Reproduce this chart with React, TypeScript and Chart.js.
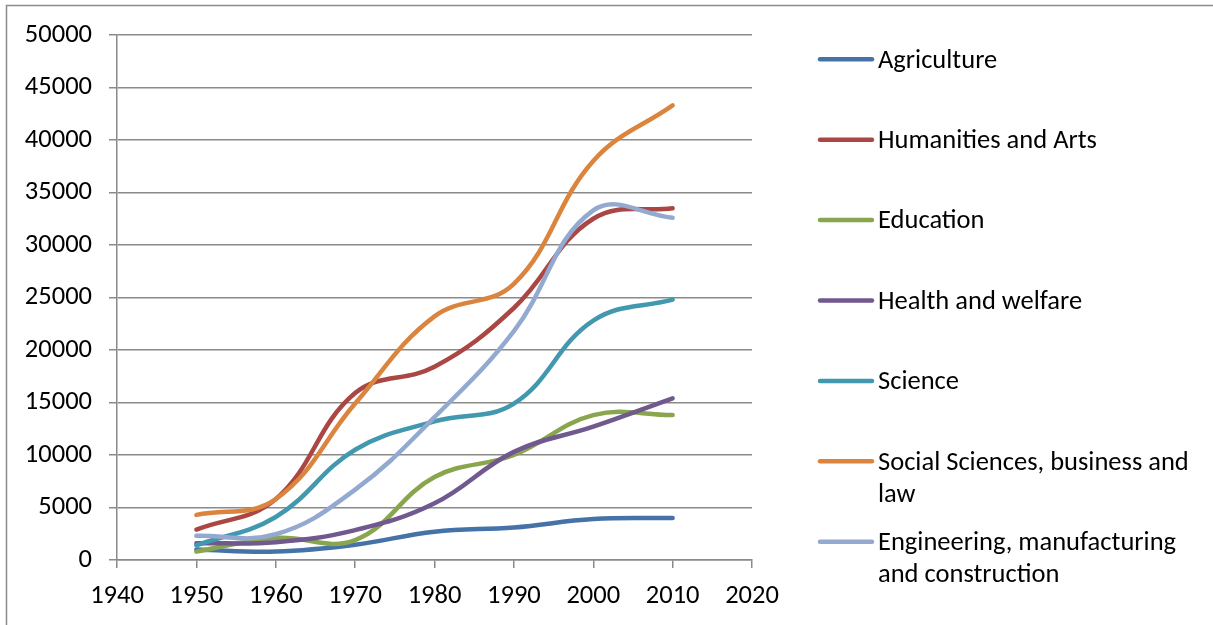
import React, { useEffect, useRef } from "react";
import { Chart, registerables } from "chart.js";

Chart.register(...registerables);

const years = [1950, 1960, 1970, 1980, 1990, 2000, 2010];
const agriculture = [1000, 800, 1450, 2700, 3100, 3900, 4000];
const humanities = [2900, 5800, 15900, 18400, 24000, 32500, 33500];
const education = [800, 2100, 1900, 7900, 10000, 13800, 13800];
const health = [1600, 1700, 2850, 5400, 10300, 12700, 15400];
const science = [1400, 4100, 10500, 13200, 14900, 22800, 24800];
const social = [4300, 5800, 14900, 23200, 26300, 38000, 43300];
const engineering = [2300, 2450, 6700, 13600, 21800, 33300, 32600];

const legendLines = [
  ["Agriculture"],
  ["Humanities and Arts"],
  ["Education"],
  ["Health and welfare"],
  ["Science"],
  ["Social Sciences, business and", "law"],
  ["Engineering, manufacturing", "and construction"],
];
const seriesValues = [agriculture, humanities, education, health, science, social, engineering];
const colors = ["#4572a7", "#aa4643", "#89a54e", "#71588f", "#4198af", "#db843d", "#93a9cf"];

const xTicksMin = 1940;
const xTicksMax = 2020;
const xStep = 10;
const yMax = 50000;
const yStep = 5000;

const FONT = 'Carlito, "Liberation Sans", Arial, sans-serif';
const GRID = "#8a8a8a";

const borderPlugin = {
  id: "outerBorder",
  beforeDraw(chart: any) {
    const ctx = chart.ctx;
    ctx.save();
    ctx.strokeStyle = GRID;
    ctx.lineWidth = 1.5;
    ctx.beginPath();
    ctx.moveTo(6.5, chart.height);
    ctx.lineTo(6.5, 5.5);
    ctx.lineTo(chart.width, 5.5);
    ctx.stroke();
    ctx.restore();
  },
};

const legendPlugin = {
  id: "customLegend",
  afterDraw(chart: any) {
    const ctx = chart.ctx;
    ctx.save();
    ctx.font = `26.5px ${FONT}`;
    ctx.textAlign = "left";
    ctx.textBaseline = "alphabetic";
    chart.data.datasets.forEach((ds: any, i: number) => {
      const y = 59.3 + i * 80.4;
      ctx.strokeStyle = ds.borderColor;
      ctx.lineWidth = 4.5;
      ctx.lineCap = "round";
      ctx.beginPath();
      ctx.moveTo(820, y);
      ctx.lineTo(872, y);
      ctx.stroke();
      ctx.fillStyle = "#000";
      const lines = legendLines[i];
      lines.forEach((t, j) => {
        ctx.fillText(t, 878, y + 8.3 + j * 32);
      });
    });
    ctx.restore();
  },
};

export default function App() {
  const ref = useRef<HTMLCanvasElement | null>(null);
  useEffect(() => {
    document.body.style.margin = "0";
    if (!ref.current) return;
    const chart = new Chart(ref.current, {
      type: "line",
      data: {
        datasets: seriesValues.map((vals, i) => ({
          label: legendLines[i].join(" "),
          data: years.map((yr, k) => ({ x: yr, y: vals[k] })),
          borderColor: colors[i],
          backgroundColor: colors[i],
          borderWidth: 4.5,
          pointRadius: 0,
          pointHoverRadius: 0,
          tension: 0.4,
          borderCapStyle: "round",
          borderJoinStyle: "round",
          fill: false,
          order: seriesValues.length - i,
        })),
      },
      options: {
        animation: false,
        responsive: false,
        devicePixelRatio: 1,
        layout: { padding: { top: 35, right: 461, left: 0, bottom: 0 } },
        plugins: {
          legend: { display: false },
          tooltip: { enabled: false },
        },
        scales: {
          x: {
            type: "linear",
            min: xTicksMin,
            max: xTicksMax,
            ticks: {
              stepSize: xStep,
              color: "#000",
              font: { size: 26.5, family: FONT },
              padding: 12,
              callback: (v: any) => String(v),
            },
            grid: {
              drawOnChartArea: false,
              drawTicks: true,
              tickLength: 8,
              color: GRID,
              lineWidth: 1.5,
            },
            border: { color: GRID, width: 1.5 },
            afterFit: (scale: any) => {
              scale.height = 65;
            },
          },
          y: {
            min: 0,
            max: yMax,
            ticks: {
              stepSize: yStep,
              color: "#000",
              font: { size: 26.5, family: FONT },
              padding: 17,
              callback: (v: any) => String(v),
            },
            grid: {
              color: GRID,
              lineWidth: 1.5,
              tickLength: 8,
            },
            border: { color: GRID, width: 1.5 },
            afterFit: (scale: any) => {
              scale.width = 117;
            },
          },
        },
      },
      plugins: [borderPlugin, legendPlugin],
    } as any);
    return () => chart.destroy();
  }, []);
  return (
    <canvas
      ref={ref}
      width={1213}
      height={625}
      style={{ display: "block", width: 1213, height: 625 }}
    />
  );
}
